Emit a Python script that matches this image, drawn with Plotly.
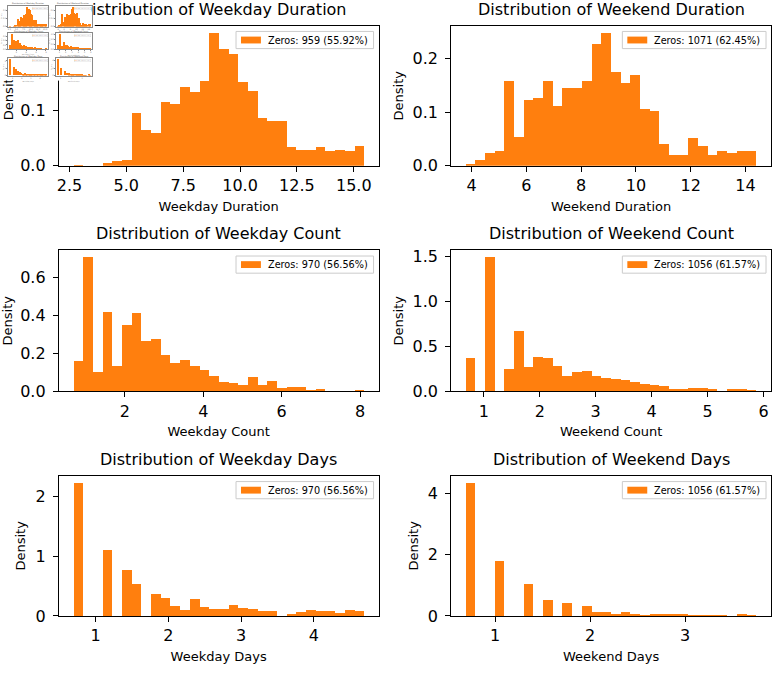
import plotly.graph_objects as go

W, H = 775, 673
FONT = "DejaVu Sans"
ORANGE = "#ff7f0e"

# ---------------- data ----------------
titles = ["Distribution of Weekday Duration", "Distribution of Weekend Duration",
          "Distribution of Weekday Count", "Distribution of Weekend Count",
          "Distribution of Weekday Days", "Distribution of Weekend Days"]
xlabels = ["Weekday Duration", "Weekend Duration", "Weekday Count",
           "Weekend Count", "Weekday Days", "Weekend Days"]
zero_labels = ["Zeros: 959 (55.92%)", "Zeros: 1071 (62.45%)", "Zeros: 970 (56.56%)",
               "Zeros: 1056 (61.57%)", "Zeros: 970 (56.56%)", "Zeros: 1056 (61.57%)"]

# min / max of the non-zero values (30 equal-width bins each)
weekday_duration_range = [2.67, 15.45]
weekend_duration_range = [3.79, 14.40]
weekday_count_range = [0.686, 8.10]
weekend_count_range = [0.678, 5.874]
weekday_days_range = [0.693, 4.690]
weekend_days_range = [0.690, 3.752]

weekday_duration_density = [0.003, 0, 0, 0.005, 0.009, 0.011, 0.097, 0.066, 0.060, 0.116,
                            0.112, 0.144, 0.135, 0.154, 0.242, 0.213, 0.204, 0.152, 0.137, 0.087,
                            0.082, 0.082, 0.035, 0.030, 0.030, 0.034, 0.027, 0.030, 0.027, 0.037]
weekend_duration_density = [0.004, 0.012, 0.025, 0.029, 0.158, 0.055, 0.124, 0.128, 0.158, 0.112,
                            0.145, 0.145, 0.158, 0.228, 0.249, 0.176, 0.155, 0.171, 0.107, 0.103,
                            0.042, 0.021, 0.021, 0.052, 0.038, 0.021, 0.029, 0.025, 0.029, 0.029]
weekday_count_density = [0.157, 0.708, 0.099, 0.416, 0.134, 0.348, 0.412, 0.264, 0.273, 0.190,
                         0.146, 0.165, 0.134, 0.113, 0.082, 0.050, 0.043, 0.031, 0.075, 0.031,
                         0.054, 0.019, 0.024, 0.024, 0.007, 0.010, 0, 0, 0, 0.006]
weekend_count_density = [0.376, 0, 1.500, 0, 0.243, 0.667, 0.269, 0.383, 0.365, 0.280,
                         0.173, 0.210, 0.229, 0.173, 0.147, 0.133, 0.125, 0.107, 0.077, 0.066,
                         0.055, 0.026, 0.030, 0.037, 0.037, 0.026, 0, 0.022, 0.022, 0.008]
weekday_days_density = [2.236, 0, 0, 1.107, 0, 0.778, 0.532, 0, 0.367, 0.312,
                        0.164, 0.104, 0.285, 0.148, 0.126, 0.126, 0.181, 0.142, 0.121, 0.093,
                        0.093, 0, 0.044, 0.066, 0.104, 0.093, 0.093, 0.055, 0.099, 0.082]
weekend_days_density = [4.375, 0, 0, 1.823, 0, 0, 1.062, 0, 0.547, 0,
                        0.450, 0, 0.322, 0.129, 0.150, 0.086, 0.129, 0.086, 0.032, 0.064,
                        0.064, 0.086, 0.064, 0.032, 0.021, 0.021, 0.032, 0, 0.086, 0.021]

ranges = [weekday_duration_range, weekend_duration_range, weekday_count_range,
          weekend_count_range, weekday_days_range, weekend_days_range]
densities = [weekday_duration_density, weekend_duration_density, weekday_count_density,
             weekend_count_density, weekday_days_density, weekend_days_density]

x_tick0 = [2.5, 0, 0, 0, 0, 0]
x_dtick = [2.5, 2, 2, 1, 1, 1]
x_fmt = [".1f", "d", "d", "d", "d", "d"]
y_dtick = [0.1, 0.1, 0.2, 0.5, 1, 2]
y_fmt = [".1f", ".1f", ".1f", ".1f", "d", "d"]

# ---------------- layout geometry (pixels) ----------------
COLS = [(57, 378), (451, 772)]
ROWS = [(23, 166), (252, 396), (482, 625)]
# small thumbnail of the figure in the top-left corner
THUMB = 0.12
THUMB_COLS = [(6, 46.5), (54, 90)]
THUMB_ROWS = [(3, 24), (31, 47), (56.5, 74)]
COVER = (93, 79)      # white area of the thumbnail
LEG_FS = 9.7
# DejaVu Sans advance widths (em) for legend text width estimation
ADV = {"Z": .685, "e": .615, "r": .411, "o": .612, "s": .521, ":": .337, " ": .318,
       "(": .39, ")": .39, ".": .318, "%": .95}

fig = go.Figure()
annotations = []
shapes = []


def text_width(t, fs):
    return sum(ADV.get(c, .636) for c in t) * fs


def names(n):
    s = "" if n == 1 else str(n)
    return "x" + s, "y" + s, "xaxis" + s, "yaxis" + s


def add_panel(n, i, k, main):
    cols, rows = (COLS, ROWS) if main else (THUMB_COLS, THUMB_ROWS)
    (left, right) = cols[i % 2]
    (top, bottom) = rows[i // 2]
    xr, yr, xk, yk = names(n)
    lo, hi = ranges[i]
    dens = densities[i]
    nb = len(dens)
    bw = (hi - lo) / nb
    centers = [lo + bw * (j + 0.5) for j in range(nb)]
    fig.add_trace(go.Bar(
        x=centers, y=dens, width=bw, name=zero_labels[i],
        marker=dict(color=ORANGE, line=dict(width=0)),
        showlegend=False, xaxis=xr, yaxis=yr, hoverinfo="skip"))
    pad = 0.05 * (hi - lo)
    ymax = max(dens) * 1.05
    lc = "black" if main else "#8a8a8a"
    tc = "black" if main else "#666"
    common = dict(showline=True, mirror=True, linecolor=lc, linewidth=1,
                  ticks="outside", ticklen=5 * k, tickwidth=1,
                  tickcolor=lc, showgrid=False, zeroline=False,
                  tickfont=dict(family=FONT, size=16 * k, color=tc))
    fig.layout[xk] = dict(
        domain=[left / W, right / W], anchor=yr, range=[lo - pad, hi + pad],
        tick0=x_tick0[i], dtick=x_dtick[i], tickformat=x_fmt[i], tickangle=0,
        title=dict(text=xlabels[i], font=dict(family=FONT, size=13 * k, color=tc),
                   standoff=7 * k),
        **common)
    ytitle = "Density"
    if main and i == 0:
        ytitle = ""   # drawn as a clipped annotation (partly hidden by the thumbnail)
    fig.layout[yk] = dict(
        domain=[1 - bottom / H, 1 - top / H], anchor=xr, range=[0, ymax],
        tick0=0, dtick=y_dtick[i], tickformat=y_fmt[i],
        ticklabelstandoff=int(round(4 * k)),
        title=dict(text=ytitle, font=dict(family=FONT, size=13 * k, color=tc),
                   standoff=6 * k),
        **common)
    # title
    if main and i == 0:
        T = 262.0
        rx = (left + right) / 2 + T / 2
        annotations.append(dict(
            text=titles[i], x=rx / W, y=1 - top / H, xref="paper", yref="paper",
            xanchor="right", yanchor="middle", yshift=16.5, showarrow=False,
            width=rx - COVER[0], align="right",
            font=dict(family=FONT, size=16, color="black")))
        annotations.append(dict(
            text="Density", x=6.5 / W, y=1 - 121 / H, xref="paper", yref="paper",
            xanchor="center", yanchor="bottom", textangle=-90, showarrow=False,
            width=121 - COVER[1] - 2, align="left",
            font=dict(family=FONT, size=13, color="black")))
    else:
        annotations.append(dict(
            text=titles[i], x=(left + right) / 2 / W, y=1 - top / H,
            xref="paper", yref="paper", xanchor="center", yanchor="middle",
            yshift=16.5 * k, showarrow=False,
            font=dict(family=FONT, size=16 * k, color="black" if main else "#444")))
    if main:
        tw = text_width(zero_labels[i], LEG_FS)
        bx1 = right - 5
        bx0 = bx1 - (5 + 20 + 7 + tw + 6)
        by0 = top + 6
        by1 = by0 + 17.5
        cy = (by0 + by1) / 2
        shapes.append(dict(type="rect", xref="paper", yref="paper",
                           x0=bx0 / W, x1=bx1 / W, y0=1 - by1 / H, y1=1 - by0 / H,
                           line=dict(color="#cccccc", width=1),
                           fillcolor="rgba(255,255,255,0.8)", layer="above"))
        shapes.append(dict(type="rect", xref="paper", yref="paper",
                           x0=(bx0 + 5) / W, x1=(bx0 + 25) / W,
                           y0=1 - (cy + 3.5) / H, y1=1 - (cy - 3.5) / H,
                           line=dict(width=0), fillcolor=ORANGE, layer="above"))
        annotations.append(dict(
            text=zero_labels[i], x=(bx0 + 31) / W, y=1 - cy / H, xref="paper", yref="paper",
            xanchor="left", yanchor="middle", showarrow=False, borderpad=0,
            font=dict(family=FONT, size=LEG_FS, color="black")))
    else:
        annotations.append(dict(
            text="<span style='color:%s'>\u25ac\u25ac</span> %s" % (ORANGE, zero_labels[i]),
            x=(right - 5 * k) / W, y=1 - (top + 6 * k) / H, xref="paper", yref="paper",
            xanchor="right", yanchor="top", showarrow=False,
            bgcolor="white", bordercolor="#cccccc", borderwidth=0.3, borderpad=0.3,
            font=dict(family=FONT, size=1.15, color="#444")))


# main panels: subplots 1..6
for i in range(6):
    add_panel(i + 1, i, 1.0, True)

# white cover of the thumbnail: subplot 7
fig.add_trace(go.Scatter(x=[0, 1, 1, 0, 0], y=[0, 0, 1, 1, 0], fill="toself",
                         fillcolor="white", mode="lines", line=dict(width=0, color="white"),
                         showlegend=False, hoverinfo="skip", xaxis="x7", yaxis="y7"))
fig.layout["xaxis7"] = dict(domain=[0, COVER[0] / W], anchor="y7", range=[0, 1], visible=False)
fig.layout["yaxis7"] = dict(domain=[1 - COVER[1] / H, 1], anchor="x7", range=[0, 1], visible=False)

# thumbnail panels: subplots 8..13
for i in range(6):
    add_panel(8 + i, i, THUMB, False)

fig.update_layout(
    width=W, height=H, margin=dict(l=0, r=0, t=0, b=0),
    paper_bgcolor="white", plot_bgcolor="white",
    font=dict(family=FONT, color="black"),
    bargap=0, showlegend=False, annotations=annotations, shapes=shapes)

fig.write_html("out.html")
